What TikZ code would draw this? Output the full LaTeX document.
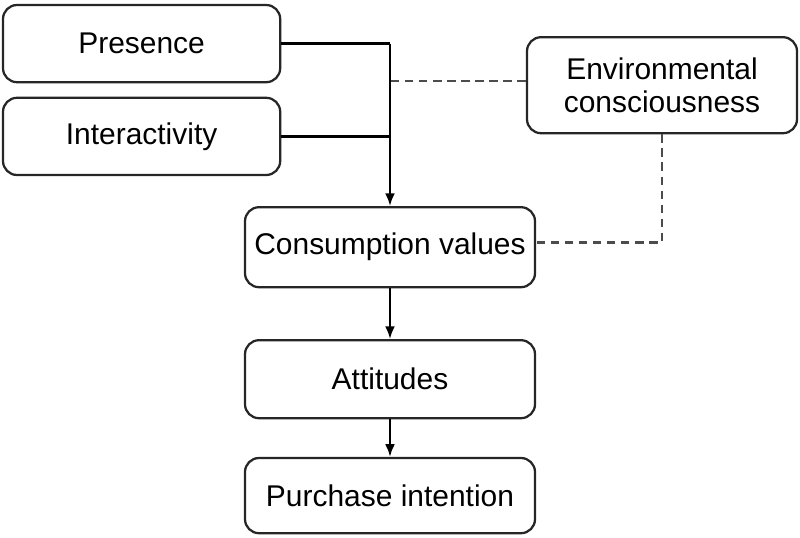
\documentclass[tikz,border=0pt]{standalone}
\usepackage{fontspec}
\setmainfont{Liberation Sans}
\usepackage{tikz}
\usetikzlibrary{shapes,arrows,arrows.meta,positioning}

\begin{document}
\begin{tikzpicture}[
    line width=1.6pt,
    factor/.style={rectangle, rounded corners=0.35cm, draw=black!85, fill=white, text centered, minimum width=6.93cm, minimum height=1.93cm, inner sep=0pt, font=\fontsize{21.3}{24}\selectfont},
    stage/.style={factor, minimum width=7.25cm, minimum height=1.95cm},
    moderator/.style={factor, align=center, minimum width=6.75cm, minimum height=2.4cm},
    arrow/.style={->, >={Latex[length=9pt,width=7pt]}},
    modline/.style={draw=black!70, dash pattern=on 6pt off 4pt}
]
\useasboundingbox (0,0) rectangle (20,-13.45);
% Antecedents (left)
\node[factor] (presence) at (3.54, -1.09) {Presence};
\node[factor] (interactivity) at (3.54, -3.41) {Interactivity};
% Moderator (right)
\node[moderator] (environment) at (16.55, -2.13) {Environmental\\consciousness};
% Main chain
\node[stage, minimum height=2cm] (values) at (9.75, -6.18) {Consumption values};
\node[stage] (attitudes) at (9.75, -9.48) {Attitudes};
\node[stage, minimum height=1.88cm] (intention) at (9.75, -12.39) {Purchase intention};
% Junction points
\coordinate (top) at (values.north |- presence.east);
\coordinate (mid) at (values.north |- interactivity.east);
\coordinate (envjoin) at ([yshift=0.1cm]environment.west);
\coordinate (valjoin) at ([yshift=0.12cm]values.east);
\coordinate (modpoint) at (values.north |- envjoin);
\coordinate (corner) at (environment.south |- valjoin);
% Arrows - main flow
\draw (presence.east) -- (top);
\draw (interactivity.east) -- (mid);
\draw[arrow] (top) -- (values.north);
\draw[arrow] (values) -- (attitudes);
\draw[arrow] (attitudes) -- (intention);
% Moderating effects
\draw[modline] (envjoin) -- (modpoint);
\draw[modline] (environment.south) -- (corner) -- (valjoin);
\end{tikzpicture}
\end{document}
